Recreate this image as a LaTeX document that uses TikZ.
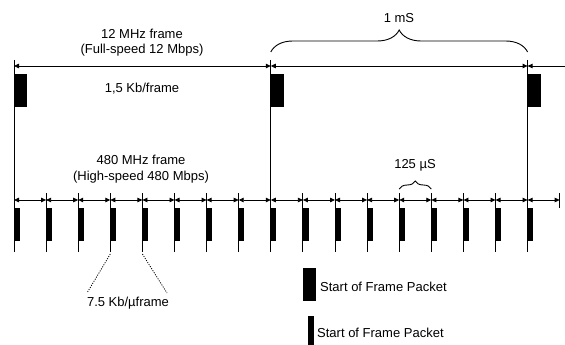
\documentclass[tikz,border=0pt]{standalone}
\usepackage{fontspec}
\setmainfont{Liberation Sans}
\usetikzlibrary{arrows.meta,decorations.pathreplacing,calc}
\begin{document}
\begin{tikzpicture}[x=1pt,y=1pt,
  lbl/.style={font=\fontsize{13}{15.6}\selectfont, inner sep=0pt, align=center},
  dimline/.style={line width=0.8pt, {Triangle[length=5pt,width=4.5pt]}-{Triangle[length=5pt,width=4.5pt]}},
  halfdim/.style={line width=0.8pt, {Triangle[length=5pt,width=4.5pt]}-},
  bigline/.style={line width=1pt},
  tickline/.style={line width=0.9pt},
  pkt/.style={fill=black, draw=none},
  dotline/.style={line width=0.8pt, dash pattern=on 1.1pt off 1.3pt},
  bracestyle/.style={line width=0.9pt, decorate, decoration={brace, amplitude=#1}}
]
\useasboundingbox (0,0) rectangle (565,-345);

% coordinates of micro-frame boundaries
\foreach \i in {0,...,17}{
  \coordinate (a\i) at ({14+32.1*\i},-200);
  \coordinate (t\i) at ({14+32.1*\i},-193);
  \coordinate (b\i) at ({14+32.1*\i},-252);
}
\foreach \i in {0,8,16}{
  \coordinate (T\i) at ({14+32.1*\i},-60);
  \coordinate (A\i) at ({14+32.1*\i},-66);
}
\coordinate (Aend) at (565,-66);
\coordinate (t17b) at ({14+32.1*17},-208);

% big frame lines
\foreach \i in {0,8,16}{
  \draw[bigline] (T\i) -- (b\i);
  \fill[pkt] ($(A\i)+(0,-8)$) rectangle ++(13,-33);
}
% micro-frame ticks
\foreach \i in {1,...,7,9,10,...,15}{
  \draw[tickline] (t\i) -- (b\i);
}
\draw[tickline] (t17) -- (t17b);
% micro packets
\foreach \i in {0,...,16}{
  \fill[pkt] ($(a\i)+(0,-8)$) rectangle ++(5.6,-33);
}
% micro arrows
\foreach \i [evaluate=\i as \j using int(\i+1)] in {0,...,16}{
  \draw[dimline] (a\i) -- (a\j);
}
% frame arrows
\draw[dimline] (A0) -- (A8);
\draw[dimline] (A8) -- (A16);
\draw[halfdim] (A16) -- (Aend);

% braces
\coordinate (br1s) at ($(A8)+(0,14)$);
\coordinate (br1e) at ($(A16)+(0,14)$);
\draw[bracestyle=22] (br1s) -- (br1e);
\coordinate (br2s) at ($(t12)+(0,4)$);
\coordinate (br2e) at ($(t13)+(0,4)$);
\draw[bracestyle=8] (br2s) -- (br2e);

% labels
\node[lbl] (fs) at (142,-42.5) {12 MHz frame\\(Full-speed 12 Mbps)};
\node[lbl] (kb) at (142,-89) {1,5 Kb/frame};
\node[lbl] (ms) at (399,-18) {1 mS};
\node[lbl] (hs) at (141,-169) {480 MHz frame\\(High-speed 480 Mbps)};
\node[lbl] (us) at (415,-165) {125 µS};
\node[lbl] (ukb) at (128,-303) {7.5 Kb/µframe};

% dotted guides
\coordinate (d1) at (87,-293);
\coordinate (d2) at (167,-293);
\coordinate (b3d) at ($(b3)+(0,-2)$);
\coordinate (b4d) at ($(b4)+(0,-2)$);
\draw[dotline] (b3d) -- (d1);
\draw[dotline] (b4d) -- (d2);

% legend
\fill[pkt] (303,-268) rectangle (316,-301);
\node[lbl, anchor=west] (leg1) at (320,-287) {Start of Frame Packet};
\fill[pkt] (308,-316) rectangle (314,-345);
\node[lbl, anchor=west] (leg2) at (317,-333) {Start of Frame Packet};
\end{tikzpicture}
\end{document}
